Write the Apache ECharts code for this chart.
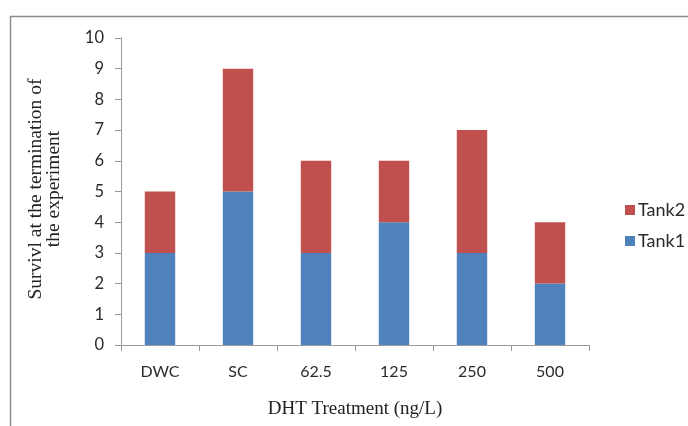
<!DOCTYPE html>
<html>
<head>
<meta charset="utf-8">
<script src="https://cdn.jsdelivr.net/npm/echarts@6/dist/echarts.min.js"></script>
<style>
  html, body { margin: 0; padding: 0; background: #fff; }
  #chart { width: 688px; height: 426px; }
</style>
</head>
<body>
<div id="chart"></div>
<script>
// Survival per treatment group, split by tank
const categories = ['DWC', 'SC', '62.5', '125', '250', '500'];
const tank1 = [3, 5, 3, 4, 3, 2];
const tank2 = [2, 4, 3, 2, 4, 2];
const yTicks = [0, 10, 1]; // min, max, step
const yTitleLines = ['Survivl at the termination of', 'the experiment'];

const chart = echarts.init(document.getElementById('chart'), null, { renderer: 'canvas' });

const labelFont = 'Lato, "Open Sans", sans-serif';
const titleFont = '"Liberation Serif", "Times New Roman", serif';

// one rotated text element per line of the y-axis title, each centred on its own
const yTitle = yTitleLines.map((line, i) => ({
  type: 'text',
  x: 36 + i * 18,
  y: 189,
  rotation: Math.PI / 2,
  style: {
    text: line,
    font: '19.5px ' + titleFont,
    fill: '#222',
    align: 'center',
    textAlign: 'center',
    verticalAlign: 'middle',
    textVerticalAlign: 'middle'
  },
  silent: true
}));

chart.setOption({
  animation: false,
  backgroundColor: '#ffffff',
  graphic: [{
    type: 'rect',
    shape: { x: 10.5, y: 16.5, width: 700, height: 430 },
    style: { fill: 'none', stroke: '#8c8c8c', lineWidth: 1.5 },
    silent: true
  }].concat(yTitle),
  legend: {
    orient: 'vertical',
    left: 620,
    top: 196,
    itemWidth: 10,
    itemHeight: 10,
    itemGap: 13,
    icon: 'rect',
    data: ['Tank2', 'Tank1'],
    textStyle: { fontFamily: labelFont, fontSize: 18, color: '#2a2a2a', padding: [0, 0, 0, -2] }
  },
  grid: { left: 121, right: 99, top: 38, bottom: 81, containLabel: false },
  xAxis: {
    type: 'category',
    data: categories,
    axisLine: { lineStyle: { color: '#9a9a9a', width: 1 } },
    axisTick: { show: true, alignWithLabel: false, length: 6, inside: false, lineStyle: { color: '#9a9a9a' } },
    axisLabel: { fontFamily: labelFont, fontSize: 16, color: '#2a2a2a', margin: 19 },
    name: 'DHT Treatment (ng/L)',
    nameLocation: 'middle',
    nameGap: 55,
    nameTextStyle: { fontFamily: titleFont, fontSize: 19, color: '#222' }
  },
  yAxis: {
    type: 'value',
    min: yTicks[0],
    max: yTicks[1],
    interval: yTicks[2],
    axisLine: { show: true, lineStyle: { color: '#9a9a9a', width: 1 } },
    axisTick: { show: true, length: 6, lineStyle: { color: '#9a9a9a' } },
    splitLine: { show: false },
    axisLabel: { fontFamily: labelFont, fontSize: 16.5, color: '#2a2a2a', margin: 17 }
  },
  series: [{
    name: 'Tank1',
    type: 'bar',
    stack: 'total',
    data: tank1,
    barWidth: '39%',
    itemStyle: { color: '#4f81bd' }
  }, {
    name: 'Tank2',
    type: 'bar',
    stack: 'total',
    data: tank2,
    barWidth: '39%',
    itemStyle: { color: '#c0504d' }
  }]
});
</script>
</body>
</html>
